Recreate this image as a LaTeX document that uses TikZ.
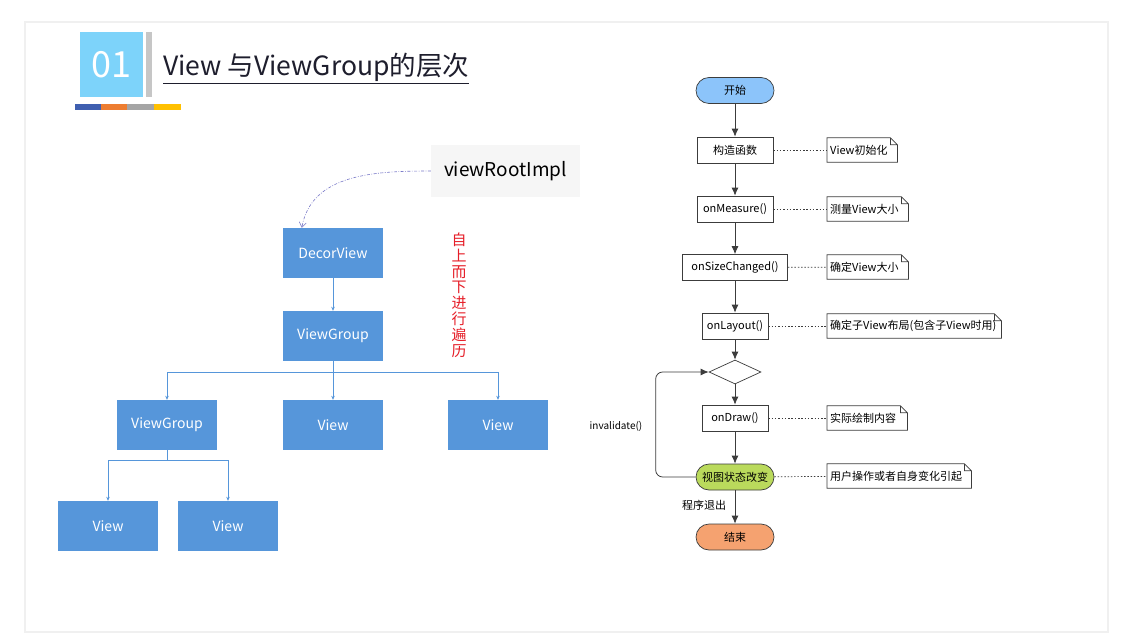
\documentclass[tikz,border=0pt]{standalone}
\usepackage{fontspec}
\setmainfont{Noto Sans CJK SC}
\usepackage{xcolor}
\usepackage{tikz}
\usetikzlibrary{arrows.meta, shapes.geometric, calc}

\definecolor{treeblue}{RGB}{86,150,218}
\definecolor{squareblue}{RGB}{125,211,250}
\definecolor{startblue}{RGB}{140,196,250}
\definecolor{stategreen}{RGB}{186,218,92}
\definecolor{stoporange}{RGB}{245,162,112}
\definecolor{flowgray}{RGB}{60,60,60}
\definecolor{linkpurple}{RGB}{120,120,200}
\definecolor{stripblue}{RGB}{63,95,176}
\definecolor{striporange}{RGB}{237,125,49}
\definecolor{stripgray}{RGB}{165,165,165}
\definecolor{stripyellow}{RGB}{255,192,0}

\tikzset{
  treebox/.style={rectangle, fill=treeblue, text=white, minimum width=100, minimum height=50,
    font=\fontsize{14}{16}\selectfont},
  treearrow/.style={draw=treeblue, line width=0.6pt, -{Stealth[length=4pt, width=3.5pt]}},
  flowbox/.style={rectangle, draw=flowgray, fill=white, line width=0.7pt, minimum height=26,
    font=\fontsize{11}{13}\selectfont},
  pill/.style={flowbox, rounded corners=13pt, minimum width=78},
  flowarrow/.style={draw=flowgray, line width=0.8pt, -{Latex[length=8pt, width=7pt]}},
  notebox/.style={rectangle, minimum height=24, text width=#1, align=left, inner xsep=3pt,
    anchor=west, font=\fontsize{11}{13}\selectfont},
  noteline/.style={draw=flowgray, line width=0.7pt},
  notelink/.style={draw=flowgray, line width=0.7pt, dash pattern=on 1.5pt off 1.8pt},
}

\begin{document}
\begin{tikzpicture}[x=1pt, y=-1pt]
    \useasboundingbox (0,0) rectangle (1123,636);
    \fill[white] (0,0) rectangle (1123,636);
    \draw[gray!12, line width=1.5pt] (25,22) rectangle (1108,632);

    % title
    \node[fill=squareblue, text=white, minimum width=63, minimum height=65, inner sep=0,
      font=\fontsize{36}{38}\selectfont] (num) at (111.5,64.5) {01};
    \fill[gray!45] (146,32) rectangle (152,97);
    \fill[stripblue] (75,104) rectangle (101,110);
    \fill[striporange] (101,104) rectangle (127,110);
    \fill[stripgray] (127,104) rectangle (154,110);
    \fill[stripyellow] (154,104) rectangle (181,110);
    \node[anchor=base west, inner sep=0, text={rgb,255:red,30;green,30;blue,45},
      font=\fontsize{26.5}{29}\selectfont] (title) at (163,76) {\underline{View 与ViewGroup的层次}};

    % view tree
    \node[fill=gray!7, minimum width=149, minimum height=52, font=\fontsize{19}{22}\selectfont]
      (root) at (505.5,171) {viewRootImpl};
    \node[treebox] (decor) at (333,253) {DecorView};
    \node[treebox] (vg) at (333,336) {ViewGroup};
    \node[treebox] (vga) at (167,425) {ViewGroup};
    \node[treebox] (va) at (333,425) {View};
    \node[treebox] (vb) at (498,425) {View};
    \node[treebox] (vc) at (108,526) {View};
    \node[treebox] (vd) at (228,526) {View};
    \node[text={rgb,255:red,230;green,30;blue,40}, align=center,
      font=\fontsize{15}{15.8}\selectfont] (order) at (459,295)
      {自\\上\\而\\下\\进\\行\\遍\\历};

    \coordinate (decortip) at ($(decor.north west)+(19,0)$);
    \draw[linkpurple, line width=0.6pt, dash pattern=on 3pt off 1.5pt on 0.8pt off 1.5pt,
      -{Straight Barb[length=5pt, width=7pt]}] (root.west) to[out=180, in=80] (decortip);

    \draw[treearrow] (decor) -- (vg);
    \draw[treearrow] (vg.south) -- ++(0,11) -| (vga.north);
    \draw[treearrow] (vg.south) -- (va.north);
    \draw[treearrow] (vg.south) -- ++(0,11) -| (vb.north);
    \draw[treearrow] (vga.south) -- ++(0,10) -| (vc.north);
    \draw[treearrow] (vga.south) -- ++(0,10) -| (vd.north);

    % life cycle
    \node[pill, fill=startblue] (start) at (735,90.5) {开始};
    \node[flowbox, minimum width=76] (ctor) at (735,150) {构造函数};
    \node[flowbox, minimum width=76] (measure) at (735,209) {onMeasure()};
    \node[flowbox, minimum width=105] (size) at (735,267.5) {onSizeChanged()};
    \node[flowbox, minimum width=66] (layout) at (735,326) {onLayout()};
    \node[diamond, draw=flowgray, fill=white, line width=0.7pt, inner sep=0,
      minimum width=52, minimum height=24] (dia) at (735,372) {};
    \node[flowbox, minimum width=66] (ondraw) at (735,418) {onDraw()};
    \node[pill, fill=stategreen] (state) at (735,477) {视图状态改变};
    \node[pill, fill=stoporange] (stop) at (735,537) {结束};

    \node[font=\fontsize{11}{13}\selectfont] (quit) at (704,505) {程序退出};
    \node[font=\fontsize{10}{12}\selectfont] (inval) at (616,426) {invalidate()};

    \draw[flowarrow] (start) -- (ctor);
    \draw[flowarrow] (ctor) -- (measure);
    \draw[flowarrow] (measure) -- (size);
    \draw[flowarrow] (size) -- (layout);
    \draw[flowarrow] (layout) -- (dia);
    \draw[flowarrow] (dia) -- (ondraw);
    \draw[flowarrow] (ondraw) -- (state);
    \draw[flowarrow] (state) -- (stop);
    \draw[flowarrow, rounded corners=7pt] (state.west) -- ++(-40,0) |- (dia.west);

    % notes
    \node[notebox=64] (n1) at (827,150) {View初始化};
    \node[notebox=75] (n2) at (827,209) {测量View大小};
    \node[notebox=75] (n3) at (827,267) {确定View大小};
    \node[notebox=168] (n4) at (827,326) {确定子View布局(包含子View时用)};
    \node[notebox=74] (n5) at (827,418) {实际绘制内容};
    \node[notebox=138] (n6) at (827,476) {用户操作或者自身变化引起};

    \foreach \n in {n1,n2,n3,n4,n5,n6}
      \draw[noteline] (\n.south west) -- (\n.north west) -- ([xshift=-7pt]\n.north east)
        -- ([yshift=-7pt]\n.north east) -- (\n.south east) -- cycle
        ([xshift=-7pt]\n.north east) -- ++(0,7) -- ([yshift=-7pt]\n.north east);

    \draw[notelink] (ctor) -- (n1);
    \draw[notelink] (measure) -- (n2);
    \draw[notelink] (size) -- (n3);
    \draw[notelink] (layout) -- (n4);
    \draw[notelink] (ondraw) -- (n5);
    \draw[notelink] (state) -- (n6);
\end{tikzpicture}
\end{document}
